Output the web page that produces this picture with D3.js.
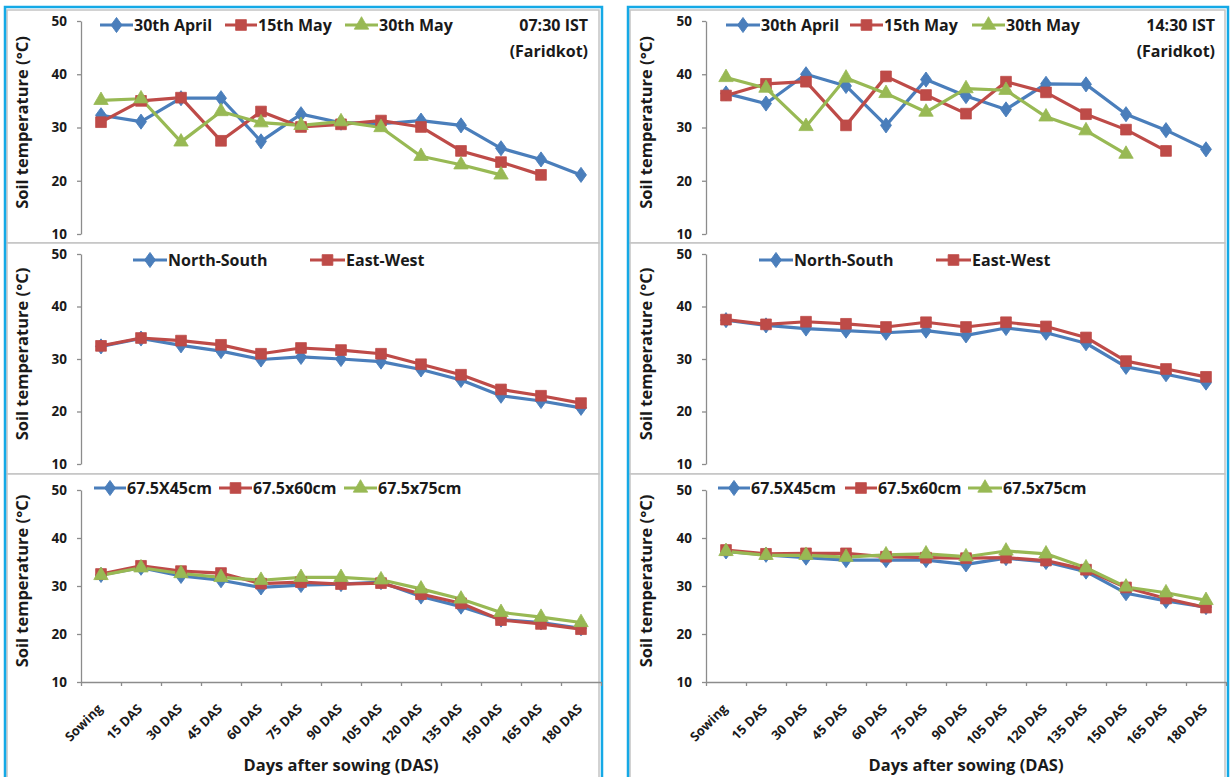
<!DOCTYPE html>
<html>
<head>
<meta charset="utf-8">
<script src="https://cdn.jsdelivr.net/npm/d3@7"></script>
<style>
  body { margin: 0; background: #ffffff; }
  svg { display: block; }
  text { font-family: "Open Sans", Lato, sans-serif; font-weight: bold; }
</style>
</head>
<body>
<svg id="chart" width="1231" height="777"></svg>
<script>
// ---- Data -------------------------------------------------------------
const categories = ["Sowing", "15 DAS", "30 DAS", "45 DAS", "60 DAS", "75 DAS", "90 DAS",
                    "105 DAS", "120 DAS", "135 DAS", "150 DAS", "165 DAS", "180 DAS"];
const yTickValues = [10, 20, 30, 40, 50];

// Sowing dates (top row)
const sowingDateNames = ["30th April", "15th May", "30th May"];
const morningApr30 = [32.3, 31.1, 35.5, 35.5, 27.4, 32.5, 30.9, 30.7, 31.3, 30.4, 26.1, 24.0, 21.1];
const morningMay15 = [31.0, 35.0, 35.6, 27.5, 33.0, 30.1, 30.6, 31.3, 30.1, 25.6, 23.5, 21.1];
const morningMay30 = [35.1, 35.4, 27.3, 33.0, 30.9, 30.4, 31.1, 30.0, 24.6, 23.0, 21.1];
const afternoonApr30 = [36.4, 34.5, 40.0, 37.8, 30.4, 39.0, 35.9, 33.4, 38.2, 38.1, 32.5, 29.5, 25.9];
const afternoonMay15 = [36.0, 38.2, 38.6, 30.4, 39.6, 36.1, 32.6, 38.6, 36.6, 32.5, 29.6, 25.6];
const afternoonMay30 = [39.4, 37.4, 30.2, 39.3, 36.4, 32.9, 37.3, 37.0, 32.0, 29.4, 25.0];

// Row orientation (middle row)
const orientationNames = ["North-South", "East-West"];
const morningNS = [32.4, 33.9, 32.6, 31.5, 29.9, 30.4, 30.0, 29.5, 28.0, 26.0, 23.0, 22.0, 20.7];
const morningEW = [32.5, 34.0, 33.5, 32.7, 31.0, 32.1, 31.7, 31.0, 29.0, 27.0, 24.2, 23.0, 21.6];
const afternoonNS = [37.4, 36.4, 35.8, 35.4, 35.0, 35.4, 34.5, 35.9, 35.0, 33.0, 28.5, 27.1, 25.5];
const afternoonEW = [37.5, 36.6, 37.1, 36.7, 36.1, 37.0, 36.1, 37.0, 36.2, 34.1, 29.6, 28.1, 26.6];

// Plant spacing (bottom row)
const spacingNames = ["67.5X45cm", "67.5x60cm", "67.5x75cm"];
const morningS45 = [32.3, 33.8, 32.1, 31.2, 29.7, 30.2, 30.4, 30.8, 27.8, 25.7, 23.0, 22.4, 21.2];
const morningS60 = [32.5, 34.2, 33.1, 32.7, 30.5, 30.8, 30.4, 30.6, 28.3, 26.4, 22.9, 22.1, 21.0];
const morningS75 = [32.2, 33.8, 32.6, 31.8, 31.2, 31.8, 31.8, 31.3, 29.4, 27.3, 24.5, 23.5, 22.4];
const afternoonS45 = [37.2, 36.5, 35.9, 35.4, 35.4, 35.4, 34.5, 35.8, 35.0, 33.0, 28.5, 26.9, 25.6];
const afternoonS60 = [37.5, 36.7, 36.8, 36.8, 36.1, 35.9, 35.8, 35.9, 35.3, 33.4, 29.7, 27.4, 25.5];
const afternoonS75 = [37.2, 36.4, 36.4, 36.0, 36.5, 36.7, 36.1, 37.3, 36.7, 33.8, 29.8, 28.6, 27.0];

// ---- Styling ------------------------------------------------------------
const BLUE = "#4a7ebb", RED = "#be4b48", GREEN = "#98b954";
const AXIS = "#8c8c8c", TEXT = "#1a1a1a";
const markerTypes = { diamond: d3.symbolDiamond, square: d3.symbolSquare, triangle: d3.symbolTriangle };
const markerSize = { diamond: 66, square: 115, triangle: 90 };

const svg = d3.select("#chart");

// Outer frames for the two columns
const columns = [
  { frameX: 5, frameW: 597, axisX: 81, plotR: 601, titleX: 22, textRight: 588 },
  { frameX: 628, frameW: 600, axisX: 706, plotR: 1226, titleX: 646, textRight: 1215 }
];
const rows = [
  { top: 10, bottom: 243, yTop: 21, yBot: 234, legendY: 25 },
  { top: 243, bottom: 474, yTop: 254, yBot: 464, legendY: 260 },
  { top: 474, bottom: 790, yTop: 490, yBot: 682, legendY: 488 }
];

columns.forEach(c => {
  rows.forEach(r => {
    svg.append("rect")
      .attr("x", c.frameX + 2).attr("y", r.top)
      .attr("width", c.frameW - 5).attr("height", r.bottom - r.top)
      .attr("fill", "#ffffff").attr("stroke", "#c4c4c4").attr("stroke-width", 1.5);
  });
  svg.append("rect")
    .attr("x", c.frameX).attr("y", 7)
    .attr("width", c.frameW).attr("height", 800)
    .attr("fill", "none").attr("stroke", "#14a9e6").attr("stroke-width", 2.5);
});

function drawMarker(g, type, color, x, y) {
  g.append("path")
    .attr("d", d3.symbol().type(markerTypes[type]).size(markerSize[type])())
    .attr("transform", `translate(${x},${y})` + (type === "diamond" ? " scale(1.25,1)" : ""))
    .attr("fill", color).attr("stroke", color).attr("stroke-width", 0.8);
}

function drawPanel(col, row, series, legend, opts = {}) {
  const c = columns[col], r = rows[row];
  const g = svg.append("g");
  const x = d3.scaleBand().domain(categories).range([c.axisX, c.plotR]);
  const y = d3.scaleLinear().domain([10, 50]).range([r.yBot, r.yTop]);
  const cx = d => x(d) + x.bandwidth() / 2;

  // Y axis
  const ya = g.append("g").attr("transform", `translate(${c.axisX},0)`)
    .call(d3.axisLeft(y).tickValues(yTickValues).tickSize(4).tickSizeOuter(0).tickPadding(10));
  ya.select(".domain").attr("stroke", AXIS).attr("stroke-width", 1.3);
  ya.selectAll(".tick line").attr("stroke", AXIS).attr("stroke-width", 1.3);
  ya.selectAll(".tick text").attr("fill", TEXT).style("font-size", "13.5px").style("font-family", "'Open Sans', sans-serif");

  g.append("text")
    .attr("transform", `translate(${c.titleX},${(r.yTop + r.yBot) / 2 - 5}) rotate(-90)`)
    .attr("text-anchor", "middle").attr("dy", "0.35em")
    .attr("fill", TEXT).style("font-size", "16.5px")
    .text("Soil temperature (°C)");

  // X axis on the bottom row only
  if (opts.xAxis) {
    const boundaries = d3.scaleLinear().domain([0, categories.length]).range([c.axisX, c.plotR]);
    const xb = g.append("g").attr("transform", `translate(0,${r.yBot})`)
      .call(d3.axisBottom(boundaries).tickValues(d3.range(categories.length + 1)).tickFormat("").tickSize(4).tickSizeOuter(0));
    xb.select(".domain").attr("stroke", AXIS).attr("stroke-width", 1.3);
    xb.selectAll(".tick line").attr("stroke", AXIS).attr("stroke-width", 1.3);

    const xl = g.append("g").attr("transform", `translate(0,${r.yBot})`)
      .call(d3.axisBottom(x).tickSize(0));
    xl.select(".domain").remove();
    xl.selectAll(".tick text")
      .attr("text-anchor", "end").attr("x", -18).attr("y", 21).attr("dy", "0")
      .attr("transform", "rotate(-45)")
      .attr("fill", TEXT).style("font-size", "13px").style("font-family", "'Open Sans', sans-serif");

    g.append("text")
      .attr("x", (c.axisX + c.plotR) / 2).attr("y", 771)
      .attr("text-anchor", "middle").attr("fill", TEXT).style("font-size", "16.5px")
      .text("Days after sowing (DAS)");
  }

  // Series lines and markers
  series.forEach(s => {
    const pts = s.values.map((v, i) => [cx(categories[i]), y(v)]);
    g.append("path")
      .attr("d", d3.line()(pts))
      .attr("fill", "none").attr("stroke", s.color).attr("stroke-width", 3.2)
      .attr("stroke-linejoin", "round");
  });
  series.forEach(s => {
    s.values.forEach((v, i) => drawMarker(g, s.marker, s.color, cx(categories[i]), y(v)));
  });

  // Legend
  series.forEach((s, i) => {
    const [lx1, lx2] = legend.lines[i];
    const ly = r.legendY;
    g.append("line").attr("x1", lx1).attr("x2", lx2).attr("y1", ly).attr("y2", ly)
      .attr("stroke", s.color).attr("stroke-width", 3);
    drawMarker(g, s.marker, s.color, (lx1 + lx2) / 2, ly);
    g.append("text").attr("x", lx2 + 1).attr("y", ly).attr("dy", "0.36em")
      .attr("fill", TEXT).style("font-size", "16px").text(s.name);
  });

  if (opts.note) {
    opts.note.forEach((t, i) => {
      g.append("text").attr("x", c.textRight).attr("y", r.legendY + i * 26).attr("dy", "0.36em")
        .attr("text-anchor", "end").attr("fill", TEXT).style("font-size", "16px").text(t);
    });
  }
}

const dateMarkers = ["diamond", "square", "triangle"];
const palette = [BLUE, RED, GREEN];
const build = (names, arrays, markers) =>
  names.map((n, i) => ({ name: n, values: arrays[i], color: palette[i], marker: markers[i] }));

// 07:30 IST column
drawPanel(0, 0, build(sowingDateNames, [morningApr30, morningMay15, morningMay30], dateMarkers),
  { lines: [[100, 133], [225, 257], [345, 378]] }, { note: ["07:30 IST", "(Faridkot)"] });
drawPanel(0, 1, build(orientationNames, [morningNS, morningEW], dateMarkers),
  { lines: [[133, 167], [310, 345]] });
drawPanel(0, 2, build(spacingNames, [morningS45, morningS60, morningS75], dateMarkers),
  { lines: [[94, 126], [219, 252], [344, 377]] }, { xAxis: true });

// 14:30 IST column
drawPanel(1, 0, build(sowingDateNames, [afternoonApr30, afternoonMay15, afternoonMay30], dateMarkers),
  { lines: [[726, 760], [850, 883], [972, 1005]] }, { note: ["14:30 IST", "(Faridkot)"] });
drawPanel(1, 1, build(orientationNames, [afternoonNS, afternoonEW], dateMarkers),
  { lines: [[759, 793], [936, 971]] });
drawPanel(1, 2, build(spacingNames, [afternoonS45, afternoonS60, afternoonS75], dateMarkers),
  { lines: [[718, 750], [845, 877], [968, 1002]] }, { xAxis: true });
</script>
</body>
</html>
